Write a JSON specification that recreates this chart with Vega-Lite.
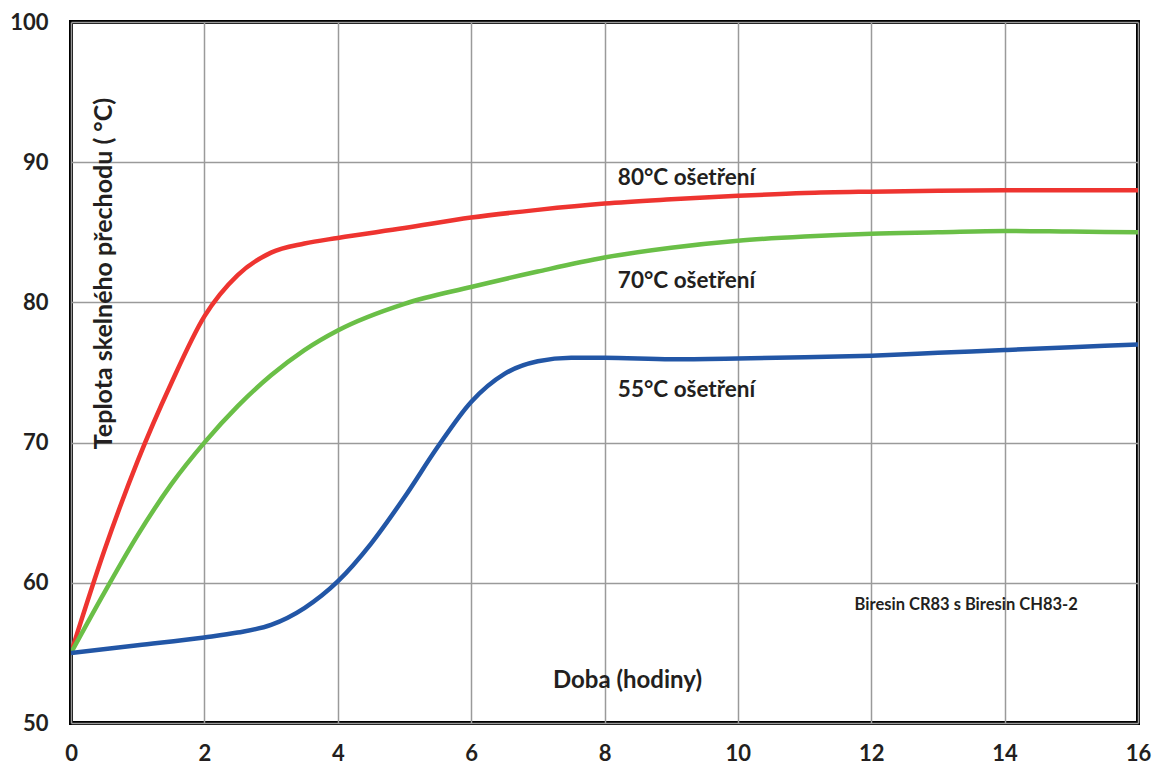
{
  "$schema": "https://vega.github.io/schema/vega-lite/v6.json",
  "width": 1067,
  "height": 701,
  "autosize": {"type": "none"},
  "padding": {"left": 71, "top": 22, "right": 16, "bottom": 43},
  "background": "white",
  "config": {
    "view": {"stroke": "black", "strokeWidth": 4},
    "font": "Lato",
    "axis": {
      "grid": true,
      "gridColor": "#9a9a9a",
      "gridWidth": 1.5,
      "domain": false,
      "ticks": false,
      "labelFlush": false,
      "labelFont": "Lato",
      "labelFontWeight": "bold",
      "labelFontSize": 22,
      "labelColor": "#231f20",
      "titleFont": "Lato",
      "titleFontWeight": "bold",
      "titleFontSize": 24,
      "titleColor": "#231f20"
    }
  },
  "datasets": {
    "curves": [
      {"t": 0, "tg": 55, "s": "80"},
      {"t": 0.5, "tg": 62.3, "s": "80"},
      {"t": 1, "tg": 68.7, "s": "80"},
      {"t": 1.5, "tg": 74.2, "s": "80"},
      {"t": 2, "tg": 79.0, "s": "80"},
      {"t": 2.5, "tg": 81.95, "s": "80"},
      {"t": 3, "tg": 83.55, "s": "80"},
      {"t": 3.5, "tg": 84.2, "s": "80"},
      {"t": 4, "tg": 84.6, "s": "80"},
      {"t": 5, "tg": 85.3, "s": "80"},
      {"t": 6, "tg": 86.05, "s": "80"},
      {"t": 7, "tg": 86.6, "s": "80"},
      {"t": 8, "tg": 87.05, "s": "80"},
      {"t": 9, "tg": 87.35, "s": "80"},
      {"t": 10, "tg": 87.6, "s": "80"},
      {"t": 11, "tg": 87.8, "s": "80"},
      {"t": 12, "tg": 87.9, "s": "80"},
      {"t": 13, "tg": 87.97, "s": "80"},
      {"t": 14, "tg": 88.0, "s": "80"},
      {"t": 15, "tg": 88.0, "s": "80"},
      {"t": 16, "tg": 88.0, "s": "80"},
      {"t": 0, "tg": 55, "s": "70"},
      {"t": 0.5, "tg": 59.3, "s": "70"},
      {"t": 1, "tg": 63.4, "s": "70"},
      {"t": 1.5, "tg": 67.0, "s": "70"},
      {"t": 2, "tg": 70.0, "s": "70"},
      {"t": 2.5, "tg": 72.6, "s": "70"},
      {"t": 3, "tg": 74.8, "s": "70"},
      {"t": 3.5, "tg": 76.6, "s": "70"},
      {"t": 4, "tg": 78.0, "s": "70"},
      {"t": 5, "tg": 79.9, "s": "70"},
      {"t": 6, "tg": 81.1, "s": "70"},
      {"t": 7, "tg": 82.2, "s": "70"},
      {"t": 8, "tg": 83.2, "s": "70"},
      {"t": 9, "tg": 83.9, "s": "70"},
      {"t": 10, "tg": 84.4, "s": "70"},
      {"t": 11, "tg": 84.7, "s": "70"},
      {"t": 12, "tg": 84.9, "s": "70"},
      {"t": 13, "tg": 85.0, "s": "70"},
      {"t": 14, "tg": 85.1, "s": "70"},
      {"t": 15, "tg": 85.05, "s": "70"},
      {"t": 16, "tg": 85.0, "s": "70"},
      {"t": 0, "tg": 55, "s": "55"},
      {"t": 1, "tg": 55.55, "s": "55"},
      {"t": 2, "tg": 56.1, "s": "55"},
      {"t": 2.5, "tg": 56.45, "s": "55"},
      {"t": 3, "tg": 57.0, "s": "55"},
      {"t": 3.5, "tg": 58.2, "s": "55"},
      {"t": 4, "tg": 60.1, "s": "55"},
      {"t": 4.5, "tg": 62.8, "s": "55"},
      {"t": 5, "tg": 66.1, "s": "55"},
      {"t": 5.5, "tg": 69.7, "s": "55"},
      {"t": 6, "tg": 72.9, "s": "55"},
      {"t": 6.5, "tg": 74.9, "s": "55"},
      {"t": 7, "tg": 75.8, "s": "55"},
      {"t": 7.5, "tg": 76.05, "s": "55"},
      {"t": 8, "tg": 76.05, "s": "55"},
      {"t": 9, "tg": 75.95, "s": "55"},
      {"t": 10, "tg": 76.0, "s": "55"},
      {"t": 11, "tg": 76.08, "s": "55"},
      {"t": 12, "tg": 76.2, "s": "55"},
      {"t": 13, "tg": 76.4, "s": "55"},
      {"t": 14, "tg": 76.6, "s": "55"},
      {"t": 15, "tg": 76.8, "s": "55"},
      {"t": 16, "tg": 77.0, "s": "55"}
    ],
    "labels": [
      {"t": 8.2, "tg": 88.85, "txt": "80°C ošetření", "size": "big"},
      {"t": 8.2, "tg": 81.5, "txt": "70°C ošetření", "size": "big"},
      {"t": 8.2, "tg": 73.75, "txt": "55°C ošetření", "size": "big"},
      {"t": 11.75, "tg": 58.4, "txt": "Biresin CR83 s  Biresin CH83-2", "size": "small"}
    ]
  },
  "layer": [
    {
      "data": {"name": "curves"},
      "mark": {"type": "line", "interpolate": "monotone", "strokeWidth": 4.5, "clip": true},
      "encoding": {
        "x": {
          "field": "t", "type": "quantitative",
          "scale": {"domain": [0, 16], "nice": false, "zero": false},
          "axis": {
            "values": [0, 2, 4, 6, 8, 10, 12, 14, 16],
            "format": "d",
            "labelPadding": 20,
            "title": "Doba (hodiny)",
            "titleX": 556,
            "titleY": -43,
            "titleAnchor": null,
            "titleAlign": "center",
            "titleBaseline": "middle"
          }
        },
        "y": {
          "field": "tg", "type": "quantitative",
          "scale": {"domain": [50, 100], "nice": false, "zero": false},
          "axis": {
            "values": [50, 60, 70, 80, 90, 100],
            "format": "d",
            "labelPadding": 23,
            "title": "Teplota skelného přechodu ( °C)",
            "titleX": 32,
            "titleY": 251,
            "titleFontSize": 25,
            "titleAngle": -90,
            "titleAlign": "center",
            "titleBaseline": "middle"
          }
        },
        "color": {
          "field": "s", "type": "nominal",
          "scale": {"domain": ["80", "70", "55"], "range": ["#ee3430", "#6abf47", "#2256a6"]},
          "legend": null
        },
        "detail": {"field": "s"}
      }
    },
    {
      "data": {"name": "labels"},
      "mark": {"type": "text", "align": "left", "baseline": "middle", "font": "Lato", "fontWeight": "bold", "color": "#231f20"},
      "encoding": {
        "x": {"field": "t", "type": "quantitative"},
        "y": {"field": "tg", "type": "quantitative"},
        "text": {"field": "txt"},
        "size": {
          "field": "size", "type": "nominal",
          "scale": {"domain": ["big", "small"], "range": [22.5, 16.5]},
          "legend": null
        }
      }
    }
  ]
}
